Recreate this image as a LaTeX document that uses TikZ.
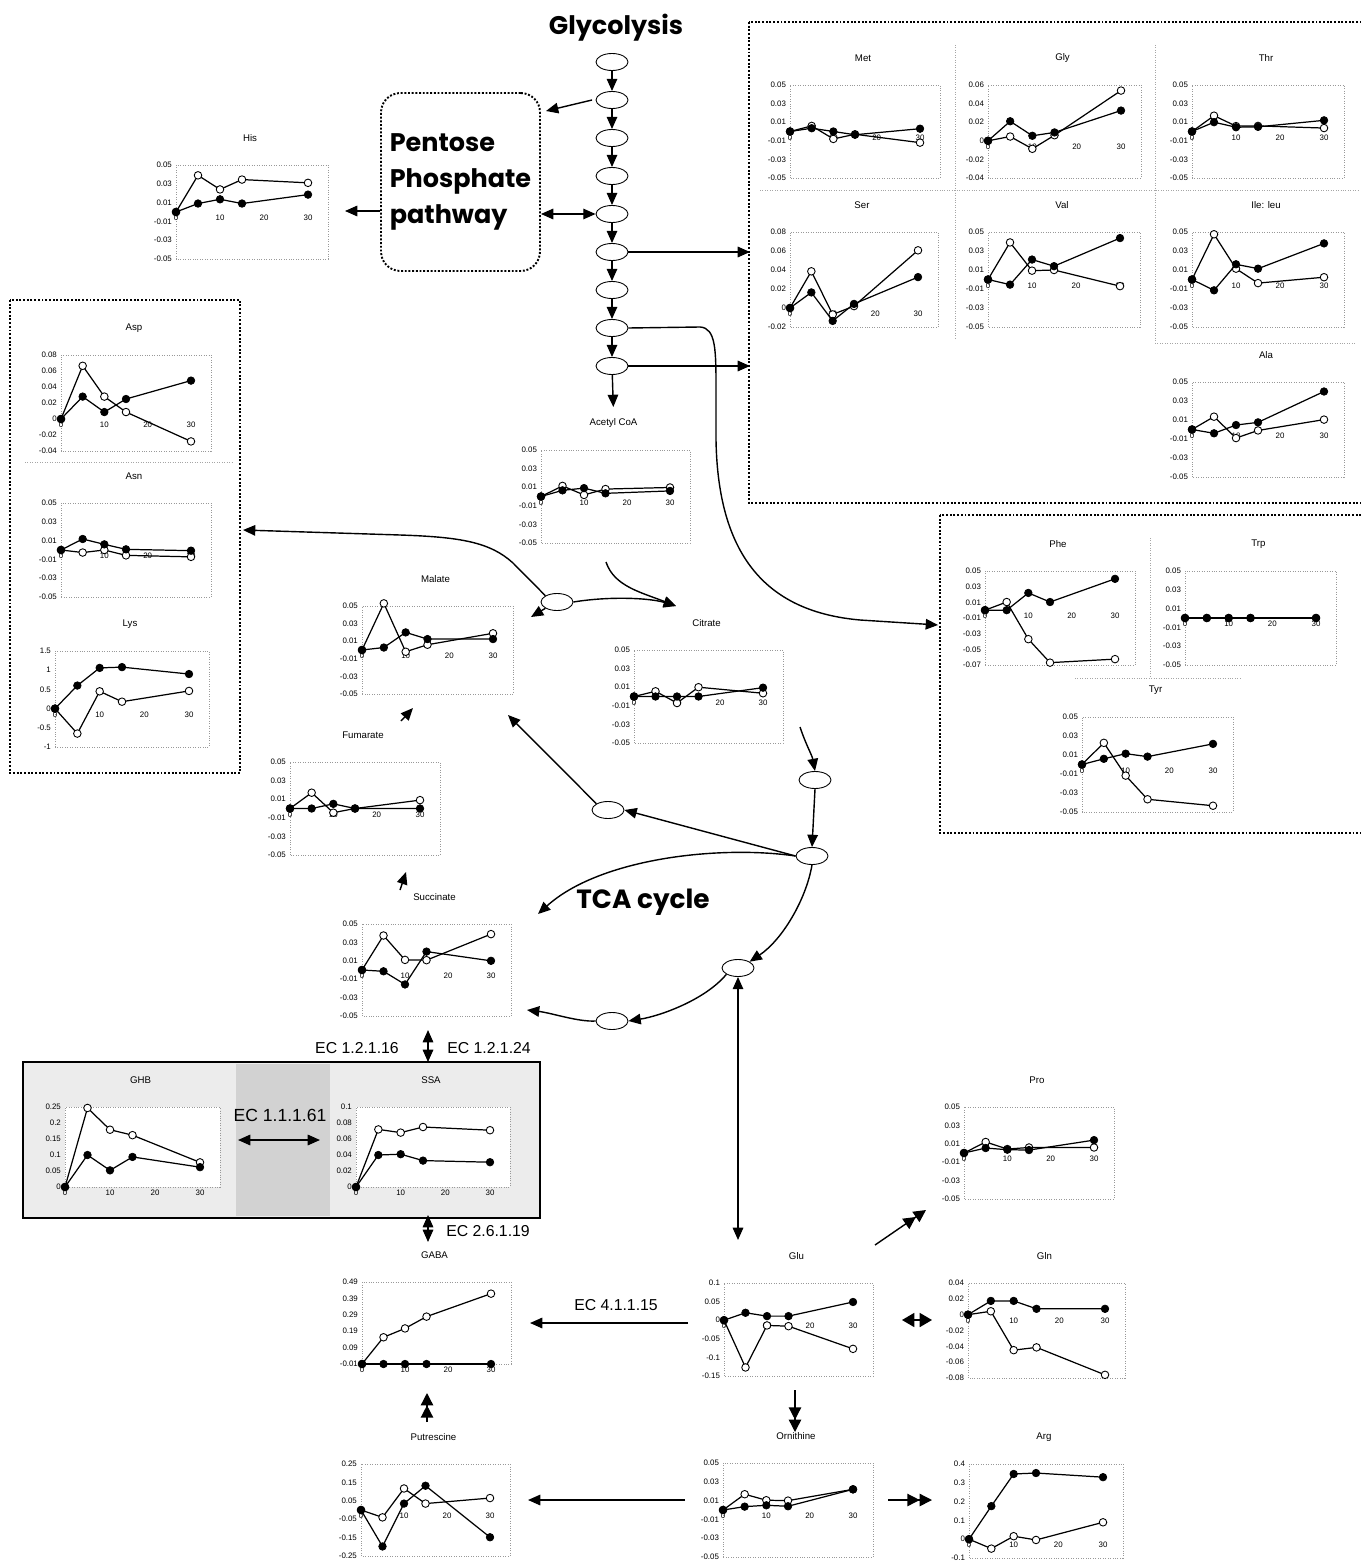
\documentclass[tikz,border=0pt]{standalone}
\usepackage{fontspec}
\setmainfont{Liberation Sans}
\newfontfamily\headfont{Poppins}
\usetikzlibrary{arrows.meta,shapes.geometric}

\tikzset{
  enz/.style={draw,ellipse,line width=0.5pt,minimum width=0.64cm,minimum height=0.34cm,inner sep=0pt},
  arr/.style={line width=0.8pt,-{Triangle[length=7pt,width=6pt]}},
  darr/.style={line width=0.8pt,{Triangle[length=7pt,width=6pt]}-{Triangle[length=7pt,width=6pt]}},
  twoarr/.style={line width=0.8pt,-{Triangle[length=7pt,width=7pt]Triangle[length=7pt,width=7pt]}},
  groupbox/.style={draw,densely dotted,line width=1.1pt},
  sepline/.style={gray!70,densely dotted,line width=0.4pt},
  chartbox/.style={draw=gray!80,densely dotted,line width=0.4pt},
  serie/.style={line width=0.7pt},
  fdot/.style={circle,draw,fill=black,inner sep=0pt,minimum size=4.3pt},
  odot/.style={circle,draw,fill=white,line width=0.5pt,inner sep=0pt,minimum size=4.3pt},
  ticklab/.style={font=\fontsize{4.5}{5}\selectfont,inner sep=1pt},
  ctitle/.style={font=\fontsize{5.5}{6}\selectfont},
  eclab/.style={font=\fontsize{9}{10}\selectfont},
  headlab/.style={font=\headfont\bfseries\fontsize{14.5}{20.5}\selectfont},
  pppbox/.style={draw,densely dotted,line width=1.1pt,rounded corners=11pt,
    minimum width=3.18cm,minimum height=3.56cm,align=left},
}

\newcommand{\setchart}[6]{\def\cx{#1}\def\cy{#2}\def\cw{#3}\def\ch{#4}\def\cmin{#5}\def\cmax{#6}}
\newcommand{\topix}[2]{\pgfmathsetmacro\px{\cx+(#1)*\cw/30}%
  \pgfmathsetmacro\py{\cy-((#2)-(\cmin))*\ch/((\cmax)-(\cmin))}}
\newcommand{\chartframe}[4]{%
  \draw[chartbox,fill=white] (\cx,\cy) rectangle ({\cx+\cw+20},{\cy-\ch});
  \node[ctitle] (#1) at ({\cx+\cw/2+8},{\cy-\ch-27}) {#2};
  \foreach \l in {#3}{\topix{0}{\l}\node[ticklab,anchor=east] at ({\px-2},\py) {\l};}
  \foreach \t in {0,10,20,30}{\topix{\t}{#4}\node[ticklab,anchor=north] at (\px,{\py+1}) {\t};}}
\newcommand{\series}[6]{%
  \foreach \t/\v [count=\i] in {0/#2,5/#3,10/#4,15/#5,30/#6}{\topix{\t}{\v}\coordinate (p\i) at (\px,\py);}
  \draw[serie] (p1) -- (p2) -- (p3) -- (p4) -- (p5);
  \foreach \i in {1,...,5} \node[#1] at (p\i) {};}

\begin{document}
\begin{tikzpicture}[x=0.02cm,y=-0.02cm]
\useasboundingbox (0,0) rectangle (1360,1564);

\draw[groupbox] (749,22) rectangle (1375,503);
\draw[groupbox] (10,300) rectangle (240,773);
\draw[groupbox] (940,515) rectangle (1375,833);
\draw[line width=1.3pt,fill=gray!15] (23,1062) rectangle (540,1218);
\fill[gray!35] (236,1064) rectangle (330,1216);
\draw[sepline] (955,45) -- (955,340);
\draw[sepline] (1155,45) -- (1155,343);
\draw[sepline] (760,190) -- (1360,190);
\draw[sepline] (1155,343) -- (1355,343);
\draw[sepline] (25,462) -- (232,462);
\draw[sepline] (1150,538) -- (1150,678);
\draw[sepline] (1075,678) -- (1242,678);

\setchart{176}{259}{132}{94}{-0.05}{0.05}
\chartframe{his}{His}{0.05,0.03,0.01,-0.01,-0.03,-0.05}{0}
\series{odot}{0}{0.039}{0.024}{0.0345}{0.031}
\series{fdot}{0}{0.009}{0.0135}{0.009}{0.0185}

\setchart{790}{178}{130}{93}{-0.05}{0.05}
\chartframe{met}{Met}{0.05,0.03,0.01,-0.01,-0.03,-0.05}{0}
\series{odot}{0}{0.006}{-0.008}{-0.003}{-0.012}
\series{fdot}{0}{0.0035}{0}{-0.0035}{0.003}

\setchart{988}{178}{133}{93}{-0.04}{0.06}
\chartframe{gly}{Gly}{0.06,0.04,0.02,0,-0.02,-0.04}{0}
\series{odot}{0}{0.0046}{-0.0086}{0.006}{0.054}
\series{fdot}{0}{0.021}{0.0054}{0.009}{0.0325}

\setchart{1192}{178}{132}{93}{-0.05}{0.05}
\chartframe{thr}{Thr}{0.05,0.03,0.01,-0.01,-0.03,-0.05}{0}
\series{odot}{0}{0.017}{0.0058}{0.006}{0.0037}
\series{fdot}{0}{0.01}{0.0046}{0.005}{0.012}

\setchart{790}{327}{128}{95}{-0.02}{0.08}
\chartframe{ser}{Ser}{0.08,0.06,0.04,0.02,0,-0.02}{0}
\series{odot}{0}{0.0386}{-0.0068}{0.002}{0.0607}
\series{fdot}{0}{0.0164}{-0.0136}{0.0043}{0.0325}

\setchart{988}{327}{132}{95}{-0.05}{0.05}
\chartframe{val}{Val}{0.05,0.03,0.01,-0.01,-0.03,-0.05}{0}
\series{odot}{0}{0.039}{0.0093}{0.01}{-0.007}
\series{fdot}{0}{-0.0054}{0.021}{0.014}{0.0436}

\setchart{1192}{327}{132}{95}{-0.05}{0.05}
\chartframe{ile}{Ile: leu}{0.05,0.03,0.01,-0.01,-0.03,-0.05}{0}
\series{odot}{0}{0.0476}{0.0114}{-0.0038}{0.0024}
\series{fdot}{0}{-0.0114}{0.016}{0.0114}{0.038}

\setchart{1192}{477}{132}{95}{-0.05}{0.05}
\chartframe{ala}{Ala}{0.05,0.03,0.01,-0.01,-0.03,-0.05}{0}
\series{odot}{0}{0.0135}{-0.009}{-0.001}{0.0104}
\series{fdot}{0}{-0.004}{0.0047}{0.0075}{0.04}

\setchart{61}{451}{130}{96}{-0.04}{0.08}
\chartframe{asp}{Asp}{0.08,0.06,0.04,0.02,0,-0.02,-0.04}{0}
\series{odot}{0}{0.0665}{0.028}{0.0087}{-0.028}
\series{fdot}{0}{0.028}{0.0087}{0.025}{0.048}

\setchart{61}{597}{130}{94}{-0.05}{0.05}
\chartframe{asn}{Asn}{0.05,0.03,0.01,-0.01,-0.03,-0.05}{0}
\series{odot}{0}{-0.0027}{0}{-0.0057}{-0.0073}
\series{fdot}{0}{0.0117}{0.006}{0.0007}{-0.0007}

\setchart{55}{747}{134}{96}{-1}{1.5}
\chartframe{lys}{Lys}{1.5,1,0.5,0,-0.5,-1}{0}
\series{odot}{0}{-0.65}{0.45}{0.18}{0.46}
\series{fdot}{0}{0.6}{1.06}{1.08}{0.9}

\setchart{541}{543}{129}{93}{-0.05}{0.05}
\chartframe{acoa}{Acetyl CoA}{0.05,0.03,0.01,-0.01,-0.03,-0.05}{0}
\series{odot}{0}{0.0114}{0.0017}{0.008}{0.0097}
\series{fdot}{0}{0.0066}{0.009}{0.0034}{0.006}

\setchart{362}{694}{131}{88}{-0.05}{0.05}
\chartframe{malate}{Malate}{0.05,0.03,0.01,-0.01,-0.03,-0.05}{0}
\series{odot}{0}{0.053}{-0.002}{0.006}{0.019}
\series{fdot}{0}{0.0028}{0.02}{0.0124}{0.0124}

\setchart{634}{743}{129}{93}{-0.05}{0.05}
\chartframe{citrate}{Citrate}{0.05,0.03,0.01,-0.01,-0.03,-0.05}{0}
\series{odot}{0}{0.0056}{-0.007}{0.01}{0.0035}
\series{fdot}{0}{0}{0}{0}{0.0095}

\setchart{290}{855}{130}{93}{-0.05}{0.05}
\chartframe{fumarate}{Fumarate}{0.05,0.03,0.01,-0.01,-0.03,-0.05}{0}
\series{odot}{0}{0.017}{-0.0045}{0}{0.009}
\series{fdot}{0}{0}{0.005}{0}{0}

\setchart{362}{1016}{129}{92}{-0.05}{0.05}
\chartframe{succinate}{Succinate}{0.05,0.03,0.01,-0.01,-0.03,-0.05}{0}
\series{odot}{0}{0.0375}{0.011}{0.0107}{0.039}
\series{fdot}{0}{-0.0014}{-0.0157}{0.02}{0.01}

\setchart{985}{665}{130}{94}{-0.07}{0.05}
\chartframe{phe}{Phe}{0.05,0.03,0.01,-0.01,-0.03,-0.05,-0.07}{0}
\series{odot}{0}{0.0104}{-0.037}{-0.067}{-0.0625}
\series{fdot}{0}{0}{0.022}{0.0104}{0.04}

\setchart{1185}{665}{131}{94}{-0.05}{0.05}
\chartframe{trp}{Trp}{0.05,0.03,0.01,-0.01,-0.03,-0.05}{0}
\series{odot}{0}{0}{0}{0}{0}
\series{fdot}{0}{0}{0}{0}{0}

\setchart{1082}{812}{131}{95}{-0.05}{0.05}
\chartframe{tyr}{Tyr}{0.05,0.03,0.01,-0.01,-0.03,-0.05}{0}
\series{odot}{0}{0.0228}{-0.0117}{-0.0366}{-0.0434}
\series{fdot}{0}{0.006}{0.0114}{0.0083}{0.0217}

\setchart{65}{1187}{135}{80}{0}{0.25}
\chartframe{ghb}{GHB}{0.25,0.2,0.15,0.1,0.05,0}{0}
\series{odot}{0}{0.247}{0.179}{0.162}{0.077}
\series{fdot}{0}{0.1}{0.052}{0.094}{0.062}

\setchart{356}{1187}{134}{80}{0}{0.1}
\chartframe{ssa}{SSA}{0.1,0.08,0.06,0.04,0.02,0}{0}
\series{odot}{0}{0.072}{0.068}{0.075}{0.071}
\series{fdot}{0}{0.04}{0.041}{0.033}{0.031}

\setchart{964}{1199}{130}{92}{-0.05}{0.05}
\chartframe{pro}{Pro}{0.05,0.03,0.01,-0.01,-0.03,-0.05}{0}
\series{odot}{0}{0.012}{0.0043}{0.006}{0.006}
\series{fdot}{0}{0.0054}{0.0036}{0.0032}{0.014}

\setchart{724}{1376}{129}{93}{-0.15}{0.1}
\chartframe{glu}{Glu}{0.1,0.05,0,-0.05,-0.1,-0.15}{0}
\series{odot}{0}{-0.127}{-0.014}{-0.016}{-0.077}
\series{fdot}{0}{0.02}{0.011}{0.011}{0.049}

\setchart{968}{1378}{137}{95}{-0.08}{0.04}
\chartframe{gln}{Gln}{0.04,0.02,0,-0.02,-0.04,-0.06,-0.08}{0}
\series{odot}{0}{0.0043}{-0.0448}{-0.0413}{-0.076}
\series{fdot}{0}{0.0174}{0.0174}{0.0074}{0.0074}

\setchart{362}{1364}{129}{82}{-0.01}{0.49}
\chartframe{gaba}{GABA}{0.49,0.39,0.29,0.19,0.09,-0.01}{-0.01}
\series{odot}{-0.01}{0.153}{0.207}{0.279}{0.419}
\series{fdot}{-0.01}{-0.01}{-0.01}{-0.01}{-0.01}

\setchart{361}{1556}{129}{92}{-0.25}{0.25}
\chartframe{putr}{Putrescine}{0.25,0.15,0.05,-0.05,-0.15,-0.25}{0}
\series{odot}{0}{-0.04}{0.117}{0.035}{0.065}
\series{fdot}{0}{-0.198}{0.035}{0.132}{-0.148}

\setchart{723}{1557}{130}{94}{-0.05}{0.05}
\chartframe{orn}{Ornithine}{0.05,0.03,0.01,-0.01,-0.03,-0.05}{0}
\series{odot}{0}{0.0168}{0.0104}{0.01}{0.022}
\series{fdot}{0}{0.0036}{0.005}{0.004}{0.022}

\setchart{969}{1558}{134}{94}{-0.1}{0.4}
\chartframe{arg}{Arg}{0.4,0.3,0.2,0.1,0,-0.1}{0}
\series{odot}{0}{-0.05}{0.016}{-0.004}{0.09}
\series{fdot}{0}{0.176}{0.347}{0.352}{0.33}

\node[headlab] (glyc) at (616,28) {Glycolysis};
\foreach \i in {1,...,9} \node[enz] (g\i) at (612,{62+38*(\i-1)}) {};
\foreach \i [count=\j from 2] in {1,...,8} \draw[arr] (g\i) -- (g\j);
\node[pppbox,headlab] (ppp) at (460.5,182) {Pentose\\Phosphate\\pathway};

\coordinate (pppin) at (546,111);
\coordinate (hisin) at (345,211);
\coordinate (boxA) at (750,0);
\coordinate (pheA) at (938,625);
\draw[arr] ([xshift=-2pt]g2.west) -- (pppin);
\draw[arr] (ppp.west |- hisin) -- (hisin);
\draw[darr] (ppp.east |- g5) -- (g5.west);
\draw[arr] (g6.east) -- (g6.east -| boxA);
\draw[arr] (g9.east) -- (g9.east -| boxA);
\draw[arr] (g8.east) -- (700,327) .. controls (716,328) and (716,350) .. (716,390)
  -- (716,440) .. controls (718,560) and (770,612) .. (860,620) -- (pheA);
\draw[arr,shorten >=3pt] (g9) -- (acoa.north);

\node[enz] (tca1) at (557,602) {};
\node[enz] (tca2) at (815,780) {};
\node[enz] (tca3) at (812,856) {};
\node[enz] (tca4) at (608,810) {};
\node[enz] (tca5) at (738,968) {};
\node[enz] (tca6) at (612,1021) {};
\node[headlab,font=\headfont\bfseries\fontsize{15}{18}\selectfont] (tcalab) at (643,902) {TCA cycle};

\coordinate (aspin) at (243,530);
\coordinate (malin) at (531,617);
\coordinate (malin2) at (508,715);
\coordinate (citin) at (676,606);
\coordinate (acoaout) at (606,562);
\coordinate (citout) at (800,727);
\coordinate (fumout) at (401,721);
\coordinate (malbot) at (413,708);
\coordinate (sucout) at (400,890);
\coordinate (fumbot) at (406,872);
\coordinate (sucin) at (538,914);
\coordinate (sucin2) at (527,1010);
\coordinate (gluin) at (738,1240);
\draw[arr] (tca1.north west) -- (513,563) .. controls (490,542) and (460,537) .. (400,535) -- (aspin);
\draw[arr] (tca1.south west) -- (malin);
\draw[arr] (tca1.east) .. controls (610,596) and (650,598) .. (citin);
\draw[arr] (acoaout) .. controls (614,586) and (640,592) .. (citin);
\draw[arr] (citout) .. controls (806,745) and (812,755) .. (tca2.north);
\draw[arr] (tca2.south) -- (tca3.north);
\draw[arr] (tca3.west) -- (tca4.east);
\draw[arr] (tca4.north west) -- (malin2);
\draw[arr] (fumout) -- (malbot);
\draw[arr] (sucout) -- (fumbot);
\draw[arr] (tca3.west) .. controls (720,845) and (600,858) .. (sucin);
\draw[arr] (tca3.south) .. controls (806,900) and (782,940) .. (tca5.north east);
\draw[arr] (tca5.south west) .. controls (705,1000) and (660,1016) .. (tca6.east);
\draw[arr] (tca6.west) .. controls (578,1022) and (552,1013) .. (sucin2);
\draw[darr] (tca5.south) -- (gluin);

\coordinate (suctop) at (428,1030);
\coordinate (ssatop) at (428,1062);
\coordinate (ssabot) at (428,1215);
\coordinate (gabatop) at (428,1242);
\coordinate (ghbR) at (238,1140);
\coordinate (ssaL) at (320,1140);
\draw[darr] (suctop) -- (ssatop);
\draw[darr] (ssabot) -- (gabatop);
\draw[darr] (ghbR) -- (ssaL);
\node[eclab] (ec1) at (357,1048) {EC 1.2.1.16};
\node[eclab] (ec2) at (489,1048) {EC 1.2.1.24};
\node[eclab,font=\fontsize{10}{11}\selectfont] (ec3) at (280,1115) {EC 1.1.1.61};
\node[eclab] (ec5) at (488,1231) {EC 2.6.1.19};

\coordinate (gluL) at (688,1323);
\coordinate (gabaR) at (530,1323);
\coordinate (gluUR) at (875,1245);
\coordinate (proLL) at (926,1210);
\coordinate (gluR) at (902,1320);
\coordinate (glnL) at (932,1320);
\coordinate (glubot) at (795,1390);
\coordinate (ornTop) at (795,1432);
\coordinate (putrTop) at (427,1422);
\coordinate (gabaBot) at (427,1393);
\coordinate (ornL) at (685,1500);
\coordinate (putrR) at (528,1500);
\coordinate (ornR) at (888,1500);
\coordinate (argL) at (932,1500);
\draw[arr] (gluL) -- (gabaR);
\node[eclab] (ec4) at (616,1305) {EC 4.1.1.15};
\draw[twoarr] (gluUR) -- (proLL);
\draw[line width=0.8pt,{Triangle[length=7pt,width=8pt]}-{Triangle[length=7pt,width=8pt]}] (gluR) -- (glnL);
\draw[twoarr] (glubot) -- (ornTop);
\draw[twoarr] (putrTop) -- (gabaBot);
\draw[arr] (ornL) -- (putrR);
\draw[twoarr] (ornR) -- (argL);
\end{tikzpicture}
\end{document}
